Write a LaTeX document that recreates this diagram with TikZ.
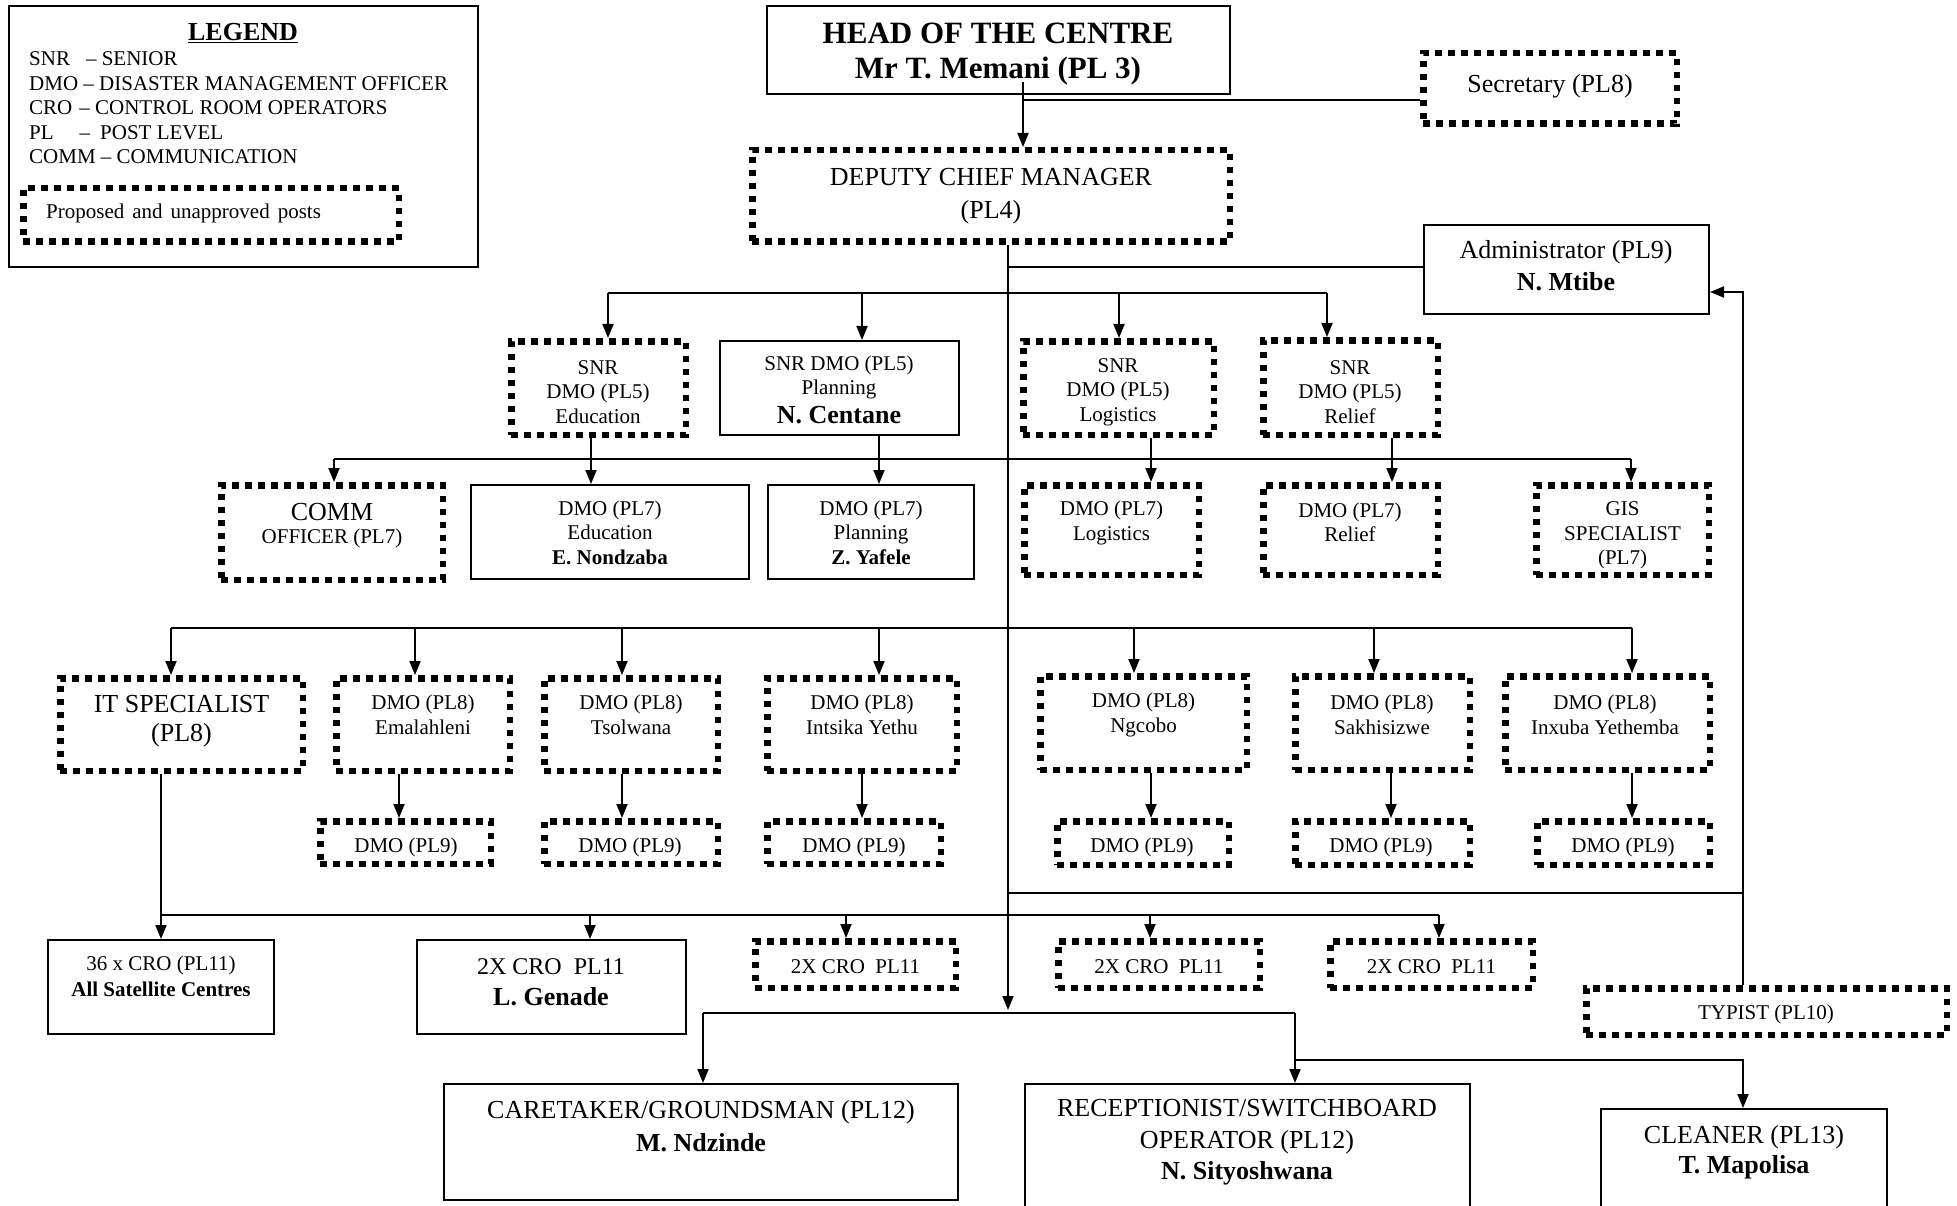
\documentclass[tikz,border=0pt]{standalone}
\usepackage{fontspec}
\setmainfont{Liberation Serif}
\usetikzlibrary{arrows.meta}
% boxes given by their outer corners (x1,y1) (x2,y2)
\newcommand\orgbox[5]{\node[postbox, minimum width={#4-#2-1.8}, minimum height={#5-#3-1.8}] (#1) at ({(#2+#4)/2},{(#3+#5)/2}) {};}
\newcommand\planbox[5]{\node[propbox, minimum width={#4-#2-6.5}, minimum height={#5-#3-6.5}] (#1) at ({(#2+#4)/2},{(#3+#5)/2}) {};}
\begin{document}
\begin{tikzpicture}[x=1pt,y=-1pt,
  postbox/.style={draw, line width=1.8pt, inner sep=0pt},
  propbox/.style={draw, line width=6.5pt, dash pattern=on 6.5pt off 6.5pt, inner sep=0pt},
  link/.style={line width=1.9pt},
  arr/.style={link, -{Triangle[length=14pt,width=11pt]}},
  txt/.style={align=center, inner sep=0pt, font=\fontsize{21}{24.5}\selectfont},
  ttl/.style={align=center, inner sep=0pt, font=\fontsize{26}{#1}\selectfont},
]
\useasboundingbox (0,0) rectangle (1957,1206);
\fill[white] (0,0) rectangle (1957,1206);

% ---------- legend ----------
\orgbox{legend}{8}{5}{479}{268}
\node[ttl=30, font=\fontsize{26}{30}\selectfont\bfseries] (legend-t) at (243,33) {\underline{LEGEND}};
\node[txt, align=left, anchor=west] (legend-l) at (29,108) {SNR\hspace{16pt}– SENIOR\\DMO – DISASTER MANAGEMENT OFFICER\\CRO\hspace{7pt}– CONTROL ROOM OPERATORS\\PL\hspace{26pt}–\hspace{10pt}POST LEVEL\\COMM – COMMUNICATION};
\planbox{legp}{20}{185}{402}{245}
\node[txt, anchor=west] (legp-t) at (46,213) {Proposed\hspace{8pt}and\hspace{8pt}unapproved\hspace{8pt}posts};

% ---------- top management ----------
\orgbox{head}{766}{5}{1231}{95}
\node[txt, font=\fontsize{31}{35}\selectfont\bfseries] (head-t) at (998,54.5) {HEAD OF THE CENTRE\\Mr T. Memani (PL 3)};
\planbox{sec}{1420}{50}{1680}{127}
\node[ttl=30] (sec-t) at (1550,86) {Secretary (PL8)};
\planbox{dcm}{749}{147}{1233}{245}
\node[ttl=33] (dcm-t) at (991,196.5) {DEPUTY CHIEF MANAGER\\(PL4)};
\orgbox{adm}{1423}{224}{1710}{315}
\node[ttl=32] (adm-t) at (1566,266) {Administrator (PL9)\\\textbf{N. Mtibe}};

% ---------- senior DMOs ----------
\planbox{snre}{508}{338}{689}{438}
\node[txt] (snre-t) at (598,392) {SNR\\DMO (PL5)\\Education};
\orgbox{snrp}{719}{340}{960}{436}
\node[txt] (snrp-t) at (839,390) {SNR DMO (PL5)\\Planning\\[4.5pt]{\fontsize{26}{24.5}\selectfont\bfseries N. Centane}};
\planbox{snrl}{1020}{338}{1217}{438}
\node[txt] (snrl-t) at (1118,392) {SNR\\DMO (PL5)\\Logistics};
\planbox{snrr}{1260}{337}{1441}{438}
\node[txt] (snrr-t) at (1350,392) {SNR\\DMO (PL5)\\Relief};

% ---------- PL7 posts ----------
\planbox{comm}{218}{482}{446}{583}
\node[txt, font=\fontsize{21}{23}\selectfont] (comm-t) at (332,525.5) {{\fontsize{26}{23}\selectfont COMM}\\OFFICER (PL7)};
\orgbox{dmoe}{470}{484}{750}{580}
\node[txt] (dmoe-t) at (610,532.5) {DMO (PL7)\\Education\\\textbf{E. Nondzaba}};
\orgbox{dmop}{767}{484}{975}{580}
\node[txt] (dmop-t) at (871,532.5) {DMO (PL7)\\Planning\\\textbf{Z. Yafele}};
\planbox{dmol}{1021}{482}{1202}{578}
\node[txt] (dmol-t) at (1111.5,523) {DMO (PL7)\\Logistics};
\planbox{dmor}{1260}{482}{1441}{578}
\node[txt] (dmor-t) at (1350,522.5) {DMO (PL7)\\Relief};
\planbox{gis}{1533}{482}{1712}{578}
\node[txt] (gis-t) at (1622.5,535.5) {GIS\\SPECIALIST\\(PL7)};

% ---------- PL8 posts ----------
\planbox{it}{57}{675}{306}{774}
\node[ttl=29] (it-t) at (181.5,721.5) {IT SPECIALIST\\(PL8)};
\planbox{emal}{333}{675}{513}{774}
\node[txt] (emal-t) at (423,715) {DMO (PL8)\\Emalahleni};
\planbox{tsol}{541}{675}{721}{774}
\node[txt] (tsol-t) at (631,715) {DMO (PL8)\\Tsolwana};
\planbox{ints}{764}{675}{960}{774}
\node[txt] (ints-t) at (862,715) {DMO (PL8)\\Intsika Yethu};
\planbox{ngco}{1037}{673}{1250}{773}
\node[txt] (ngco-t) at (1143.5,715) {DMO (PL8)\\Ngcobo};
\planbox{sakh}{1292}{673}{1473}{773}
\node[txt] (sakh-t) at (1382,715) {DMO (PL8)\\Sakhisizwe};
\planbox{inxu}{1502}{673}{1713}{773}
\node[txt] (inxu-t) at (1605,715) {DMO (PL8)\\Inxuba Yethemba};

% ---------- PL9 posts ----------
\planbox{emal9}{317}{818}{494}{867}
\node[txt] (emal9-t) at (406,847) {DMO (PL9)};
\planbox{tsol9}{541}{818}{721}{867}
\node[txt] (tsol9-t) at (630,847) {DMO (PL9)};
\planbox{ints9}{764}{818}{944}{867}
\node[txt] (ints9-t) at (854,847) {DMO (PL9)};
\planbox{ngco9}{1054}{818}{1232}{868}
\node[txt] (ngco9-t) at (1142,847) {DMO (PL9)};
\planbox{sakh9}{1292}{818}{1473}{868}
\node[txt] (sakh9-t) at (1381,847) {DMO (PL9)};
\planbox{inxu9}{1534}{818}{1713}{868}
\node[txt] (inxu9-t) at (1623,847) {DMO (PL9)};

% ---------- control room ----------
\orgbox{cro36}{47}{939}{275}{1035}
\node[txt, font=\fontsize{21}{26}\selectfont] (cro36-t) at (161,976) {36 x CRO (PL11)\\\textbf{All Satellite Centres}};
\orgbox{crog}{416}{939}{687}{1035}
\node[txt, font=\fontsize{24}{31}\selectfont] (crog-t) at (551,982.5) {2X CRO\ \ PL11\\{\fontsize{26}{31}\selectfont\bfseries L. Genade}};
\planbox{cro1}{752}{938}{959}{991}
\node[txt] (cro1-t) at (855.5,967) {2X CRO\ \ PL11};
\planbox{cro2}{1055}{938}{1263}{991}
\node[txt] (cro2-t) at (1159,967) {2X CRO\ \ PL11};
\planbox{cro3}{1327}{938}{1536}{991}
\node[txt] (cro3-t) at (1431.5,967) {2X CRO\ \ PL11};
\planbox{typ}{1583}{985}{1950}{1038}
\node[txt] (typ-t) at (1766,1014) {TYPIST (PL10)};

% ---------- support staff ----------
\orgbox{care}{443}{1083}{959}{1201}
\node[ttl=33] (care-t) at (701,1126.5) {CARETAKER/GROUNDSMAN (PL12)\\\textbf{M. Ndzinde}};
\orgbox{recp}{1024}{1083}{1471}{1230}
\node[ttl=31.5] (recp-t) at (1247,1142.5) {RECEPTIONIST/SWITCHBOARD\\OPERATOR (PL12)\\\textbf{N. Sityoshwana}};
\orgbox{clean}{1600}{1108}{1888}{1230}
\node[ttl=30] (clean-t) at (1744,1152) {CLEANER (PL13)\\\textbf{T. Mapolisa}};

% ---------- connectors ----------
\coordinate (hd) at (1023,82);
\draw[arr] (hd) -- (hd |- dcm.north);
\draw[link] (hd |- 0,100) -- (sec.west |- 0,100);

\coordinate (tkend) at (1008,1010);
\draw[arr] (dcm.south -| tkend) -- (tkend);
\draw[link] (tkend |- 0,267) -- (adm.west |- 0,267);

% senior DMOs
\draw[link] (608,293) -- (1327,293);
\foreach \x/\n in {608/snre,862/snrp,1119/snrl,1327/snrr}
  \draw[arr] (\x,293) -- (\n.north -| \x,0);

% PL7 level
\draw[link] (334,459) -- (1631,459);
\draw[arr] (334,459) -- (comm.north -| 334,0);
\draw[arr] (1631,459) -- (gis.north -| 1631,0);
\foreach \x/\a/\b in {591/snre/dmoe,879/snrp/dmop,1151/snrl/dmol,1392/snrr/dmor}
  \draw[arr] (\a.south -| \x,0) -- (\b.north -| \x,0);

% PL8 level
\draw[link] (171,628) -- (1632,628);
\foreach \x/\n in {171/it,415/emal,622/tsol,879/ints,1134/ngco,1374/sakh,1632/inxu}
  \draw[arr] (\x,628) -- (\n.north -| \x,0);

% PL9 level
\foreach \x/\a/\b in {399/emal/emal9,622/tsol/tsol9,862/ints/ints9,1151/ngco/ngco9,1391/sakh/sakh9,1632/inxu/inxu9}
  \draw[arr] (\a.south -| \x,0) -- (\b.north -| \x,0);

% typist and administrator
\draw[link] (1008,893) -- (1743,893);
\draw[arr] (typ.north -| 1743,0) -- (1743,292) -- (adm.east |- 0,292);

% control room operators
\draw[link] (it.south -| 161,0) -- (161,915) -- (1439,915);
\foreach \x/\n in {161/cro36,590/crog,846/cro1,1150/cro2,1439/cro3}
  \draw[arr] (\x,915) -- (\n.north -| \x,0);

% support staff
\draw[link] (703,1013) -- (1295,1013);
\draw[arr] (703,1013) -- (care.north -| 703,0);
\draw[arr] (1295,1013) -- (recp.north -| 1295,0);
\draw[arr] (1295,1060) -- (1743,1060) -- (clean.north -| 1743,0);
\end{tikzpicture}
\end{document}
